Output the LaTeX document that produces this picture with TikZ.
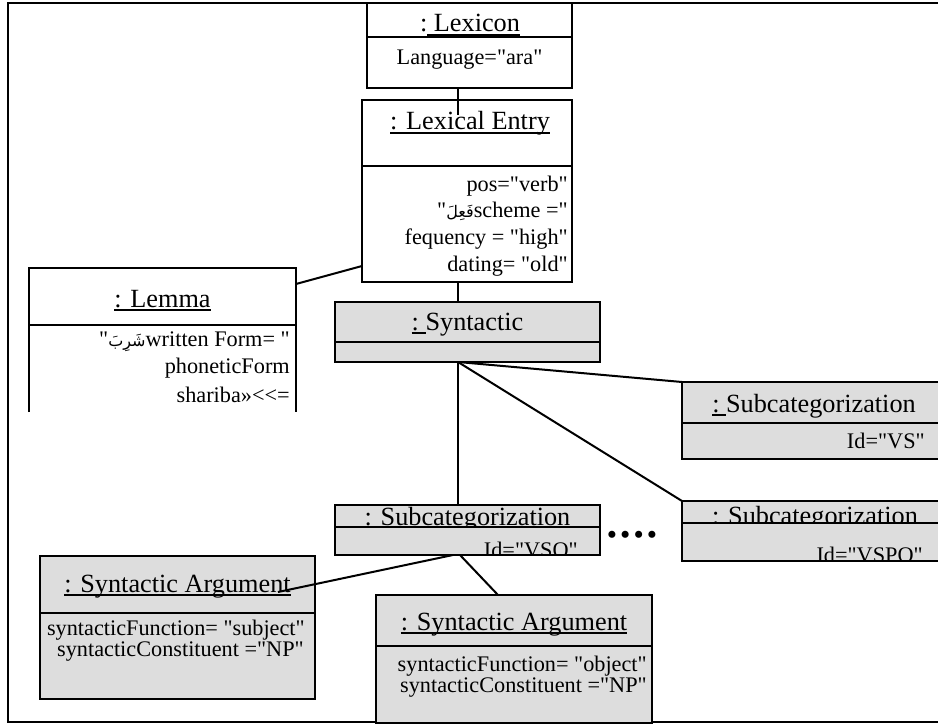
\documentclass[tikz,border=0pt]{standalone}
\usepackage{fontspec}
\setmainfont{Liberation Serif}[Ligatures=TeXOff]
\newfontfamily\arabicfont[Script=Arabic]{DejaVu Sans}
\TeXXeTstate=1
\usetikzlibrary{calc}
\definecolor{boxfill}{RGB}{221,221,221}
% underline at a fixed depth below the baseline
\newcommand\ulined[1]{\setbox0\hbox{#1}\rlap{\rule[-2.8pt]{\wd0}{1.1pt}}\box0}
\newcommand\titlesize{\fontsize{19.7}{22}\selectfont}
\newcommand\attrsize{\fontsize{16.7}{20}\selectfont}
\newcommand\arword[1]{{\arabicfont\fontsize{12}{14}\selectfont\beginR #1\endR}}
\begin{document}
\begin{tikzpicture}[x=0.75pt,y=-0.75pt,
  box/.style={draw, line width=1.5pt, anchor=north west, inner sep=0pt, outer sep=0pt},
  shaded/.style={box, fill=boxfill},
  conn/.style={line width=1.5pt},
  title/.style={anchor=base, inner sep=0pt, font=\titlesize},
  attr/.style={anchor=base east, inner sep=0pt, font=\attrsize},
]
\clip (0,0) rectangle (938,727);

% outer frame (open to the right)
\draw[line width=1.6pt] (960,3) -- (8,3) -- (8,722) -- (960,722);

% ---- Lexicon
\node[box, minimum width=153.75pt, minimum height=63.75pt] (lexicon) at (367,3) {};
\draw[conn] ($(lexicon.north west)+(0,34)$) -- ($(lexicon.north east)+(0,34)$);
\node[title] (lexiconT) at (470,32) {:\ulined{\ Lexicon}};
\node[attr, anchor=base] (lexiconA) at (469.5,65) {Language="ara"};

% ---- Lexical Entry
\node[box, minimum width=157.5pt, minimum height=136.5pt] (lexentry) at (362,100) {};
\draw[conn] ($(lexentry.north west)+(0,66)$) -- ($(lexentry.north east)+(0,66)$);
\node[title] (lexentryT) at (470,130) {\ulined{: Lexical Entry}};
\node[attr] (lexA1) at (568,192) {pos="verb"};
\node[attr] (lexA2) at (568,218) {"\arword{فَعِلَ}scheme ="};
\node[attr] (lexA3) at (568,245) {fequency = "high"};
\node[attr] (lexA4) at (568,272) {dating= "old"};

% ---- Lemma (open at the bottom)
\node[anchor=north west, inner sep=0pt, outer sep=0pt, minimum width=200.25pt, minimum height=108pt] (lemma) at (29,268) {};
\draw[conn] (lemma.south west) -- (lemma.north west) -- (lemma.north east) -- (lemma.south east);
\draw[conn] ($(lemma.north west)+(0,57)$) -- ($(lemma.north east)+(0,57)$);
\node[title] (lemmaT) at (162.5,307) {\ulined{: Lemma}};
\node[attr] (lemmaA1) at (290,346) {"\arword{شَرِبَ}written Form= "};
\node[attr] (lemmaA2) at (290,373) {phoneticForm};
\node[attr] (lemmaA3) at (290,402) {shariba»<\kern0pt<=};

% ---- Syntactic
\node[shaded, minimum width=198.75pt, minimum height=45pt] (syntactic) at (335,302) {};
\draw[conn] ($(syntactic.north west)+(0,40)$) -- ($(syntactic.north east)+(0,40)$);
\node[title] (syntacticT) at (467.5,330) {\ulined{:\ }Syntactic};

% ---- Subcategorization VS
\node[shaded, minimum width=198pt, minimum height=57.75pt] (subVS) at (682,382) {};
\draw[conn] ($(subVS.north west)+(0,41)$) -- ($(subVS.north east)+(0,41)$);
\node[title] (subVST) at (814,412) {\ulined{:\ }Subcategorization};
\node[attr] (subVSA) at (925,448) {Id="VS"};

% ---- Subcategorization VSO
\node[shaded, minimum width=198.75pt, minimum height=37.5pt] (subVSO) at (335,505) {};
\begin{scope}
  \clip (subVSO.north west) rectangle ($(subVSO.north east)+(0,22)$);
  \node[title] (subVSOT) at (467.5,525) {: Subcategorization};
\end{scope}
\begin{scope}
  \clip ($(subVSO.north west)+(0,22)$) rectangle (subVSO.south east);
  \node[attr] (subVSOA) at (578,557) {Id="VSO"};
\end{scope}
\draw[conn] ($(subVSO.north west)+(0,22)$) -- ($(subVSO.north east)+(0,22)$);
\draw[conn] (subVSO.south west) -- (subVSO.south east);

% ---- Subcategorization VSPO
\node[shaded, minimum width=198pt, minimum height=45pt] (subVSPO) at (682,501) {};
\begin{scope}
  \clip (subVSPO.north west) rectangle ($(subVSPO.north east)+(0,22)$);
  \node[title] (subVSPOT) at (815,524) {: Subcategorization};
\end{scope}
\begin{scope}
  \clip ($(subVSPO.north west)+(0,22)$) rectangle (subVSPO.south east);
  \node[attr] (subVSPOA) at (923,562) {Id="VSPO"};
\end{scope}
\draw[conn] ($(subVSPO.north west)+(0,22)$) -- ($(subVSPO.north east)+(0,22)$);
\draw[conn] (subVSPO.south west) -- (subVSPO.south east);

% ellipsis between the subcategorizations
\node[inner sep=0pt] (dots) at (632,538) {\fontsize{22}{22}\selectfont •\hspace{2.3pt}•\hspace{2.3pt}•\hspace{2.3pt}•};

% ---- Syntactic Argument (subject)
\node[shaded, minimum width=206.25pt, minimum height=107.25pt] (argSubj) at (40,556) {};
\draw[conn] ($(argSubj.north west)+(0,57)$) -- ($(argSubj.north east)+(0,57)$);
\node[title] (argSubjT) at (177.5,592) {\ulined{: Syntactic Argument}};
\node[attr] (argSubjA1) at (305,635) {syntacticFunction= "subject"};
\node[attr] (argSubjA2) at (304,656) {syntacticConstituent ="NP"};

% ---- Syntactic Argument (object)
\node[shaded, minimum width=207pt, minimum height=96pt] (argObj) at (376,595) {};
\draw[conn] ($(argObj.north west)+(0,51)$) -- ($(argObj.north east)+(0,51)$);
\node[title] (argObjT) at (514,630) {\ulined{: Syntactic Argument}};
\node[attr] (argObjA1) at (647,671) {syntacticFunction= "object"};
\node[attr] (argObjA2) at (647,692) {syntacticConstituent ="NP"};

% ---- connectors
\draw[conn] ($(lexicon.south west)+(91,0)$) -- ($(lexentry.north west)+(96,15)$);
\draw[conn] ($(lexentry.south west)+(96,0)$) -- ($(syntactic.north west)+(123,0)$);
\draw[conn] ($(lemma.north east)+(0,16)$) -- ($(lexentry.south west)+(0,-16)$);
\draw[conn] ($(syntactic.south west)+(123,0)$) -- ($(subVSO.north west)+(123,0)$);
\draw[conn] ($(syntactic.south west)+(123,0)$) -- (subVS.north west);
\draw[conn] ($(syntactic.south west)+(123,0)$) -- (subVSPO.north west);
\draw[conn] ($(subVSO.south west)+(118,0)$) -- ($(argSubj.north west)+(238,36)$);
\draw[conn] ($(subVSO.south west)+(125,0)$) -- ($(argObj.north west)+(122,0)$);
\end{tikzpicture}
\end{document}
